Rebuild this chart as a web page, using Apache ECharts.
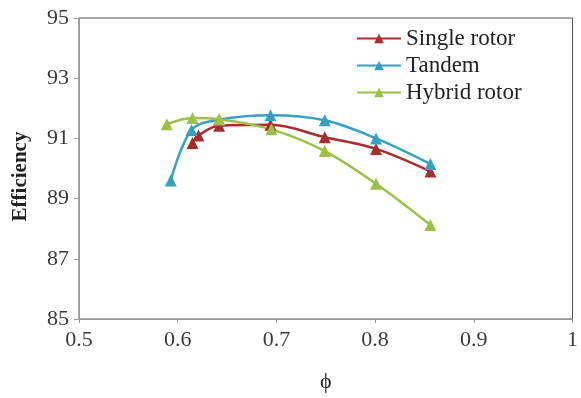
<!DOCTYPE html>
<html>
<head>
<meta charset="utf-8">
<script src="https://cdn.jsdelivr.net/npm/echarts@6/dist/echarts.min.js"></script>
<style>
html,body{margin:0;padding:0;background:#fff;}
#chart{width:581px;height:398px;}
</style>
</head>
<body>
<div id="chart"></div>
<script>
var seriesNames = ['Single rotor', 'Tandem', 'Hybrid rotor'];
var singlePhi = [0.615, 0.621, 0.642, 0.694, 0.749, 0.801, 0.856];
var singleEff = [90.85, 91.1, 91.42, 91.45, 91.04, 90.65, 89.9];
var tandemPhi = [0.593, 0.614, 0.642, 0.694, 0.749, 0.801, 0.856];
var tandemEff = [89.6, 91.28, 91.62, 91.77, 91.6, 91.0, 90.15];
var hybridPhi = [0.589, 0.615, 0.642, 0.695, 0.749, 0.801, 0.856];
var hybridEff = [91.47, 91.68, 91.64, 91.3, 90.58, 89.49, 88.12];
var colors = ['#A52D2A', '#35A0C0', '#9CBF45'];

function pairs(xs, ys) { return xs.map(function (x, i) { return [x, ys[i]]; }); }

var font = '"Liberation Serif", "Times New Roman", serif';
var chart = echarts.init(document.getElementById('chart'));
var data = [pairs(singlePhi, singleEff), pairs(tandemPhi, tandemEff), pairs(hybridPhi, hybridEff)];

chart.setOption({
  animation: false,
  backgroundColor: '#fff',
  grid: { left: 79, right: 4, top: 18, bottom: 74, show: true, borderColor: '#555', borderWidth: 1 },
  legend: {
    orient: 'vertical', left: 351, top: 22, itemGap: 4, itemWidth: 44, itemHeight: 12,
    textStyle: { fontFamily: font, fontSize: 23, color: '#222' },
    data: seriesNames
  },
  xAxis: {
    type: 'value', min: 0.5, max: 1, interval: 0.1,
    name: 'ϕ', nameLocation: 'middle', nameGap: 52,
    nameTextStyle: { fontFamily: font, fontSize: 22, color: '#222' },
    axisLine: { lineStyle: { color: '#999', width: 1 } },
    axisTick: { show: true, inside: false, length: 4, lineStyle: { color: '#999' } },
    axisLabel: { fontFamily: font, fontSize: 22, color: '#3a3a3a', margin: 10,
      formatter: function (v) { return v === 1 ? '1' : v.toFixed(1); } },
    splitLine: { show: false }
  },
  yAxis: {
    type: 'value', min: 85, max: 95, interval: 2,
    name: 'Efficiency', nameLocation: 'middle', nameGap: 48, nameRotate: 90,
    nameTextStyle: { fontFamily: font, fontSize: 21, fontWeight: 'bold', color: '#222', padding: [0, 16, 0, 0] },
    axisLine: { show: true, lineStyle: { color: '#999', width: 1 } },
    axisTick: { show: true, inside: false, length: 5, lineStyle: { color: '#999' } },
    axisLabel: { fontFamily: font, fontSize: 22, color: '#3a3a3a', margin: 10 },
    splitLine: { show: false }
  },
  series: seriesNames.map(function (n, i) {
    return {
      name: n, type: 'line', data: data[i], smooth: 0.35,
      symbol: 'triangle', symbolSize: 12,
      lineStyle: { color: colors[i], width: 2.5 },
      itemStyle: { color: colors[i] }
    };
  })
});
</script>
</body>
</html>
